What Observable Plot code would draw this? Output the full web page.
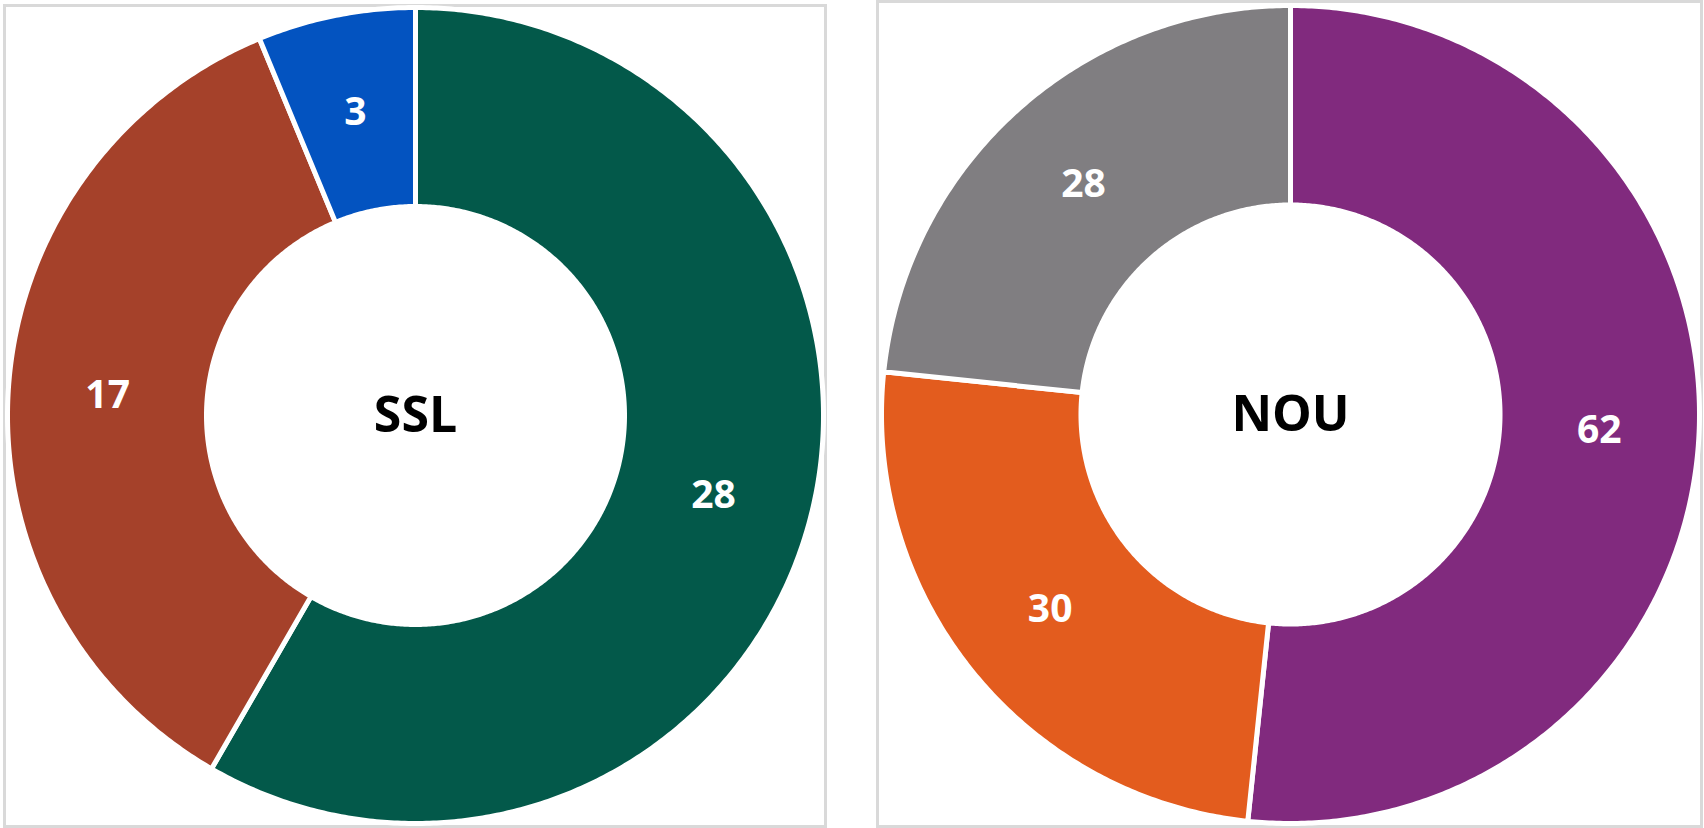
<!DOCTYPE html>
<html>
<head>
<meta charset="utf-8">
<script src="https://cdn.jsdelivr.net/npm/d3@7"></script>
<script src="https://cdn.jsdelivr.net/npm/@observablehq/plot@0.6"></script>
<style>
  html, body { margin: 0; padding: 0; background: #ffffff; width: 1704px; height: 828px; overflow: hidden; }
  .panel { position: absolute; box-sizing: border-box; border: 3px solid #d9d9d9; }
  .chart { position: absolute; top: 0; }
</style>
</head>
<body>
<div class="panel" style="left:3px; top:4px; width:824px; height:824px;"></div>
<div class="panel" style="left:876px; top:0px; width:827px; height:828px;"></div>
<div id="c1" class="chart" style="left:0px;"></div>
<div id="c2" class="chart" style="left:852px;"></div>
<script>
// ---- data ----
const chartNames = ["SSL", "NOU"];
const sslSegments = ["Segment 1", "Segment 2", "Segment 3"];
const sslValues = [28, 17, 3];
const nouSegments = ["Segment 1", "Segment 2", "Segment 3"];
const nouValues = [62, 30, 28];

// ---- styles ----
const sslColors = ["#03594a", "#a5412a", "#0353c0"];
const nouColors = ["#812a7e", "#e35c1e", "#807e81"];

const INNER = 209 / 408; // hole ratio
const MID = (1 + INNER) / 2;

function donut(el, name, segments, values, colors, cx, cy, R) {
  const total = d3.sum(values);
  const pts = [];
  const labels = [];
  let acc = 0;
  segments.forEach((seg, i) => {
    const a0 = acc / total * 2 * Math.PI;
    acc += values[i];
    const a1 = acc / total * 2 * Math.PI;
    const n = Math.max(2, Math.ceil((a1 - a0) / (Math.PI / 360)));
    for (let k = 0; k <= n; k++) {
      const a = a0 + (a1 - a0) * k / n;
      pts.push({key: seg, x: Math.sin(a), y: Math.cos(a)});
    }
    for (let k = n; k >= 0; k--) {
      const a = a0 + (a1 - a0) * k / n;
      pts.push({key: seg, x: INNER * Math.sin(a), y: INNER * Math.cos(a)});
    }
    const am = (a0 + a1) / 2;
    labels.push({x: MID * Math.sin(am), y: MID * Math.cos(am), text: String(values[i])});
  });
  const chart = Plot.plot({
    width: 852,
    height: 828,
    margin: 0,
    style: {background: "transparent", fontFamily: "Open Sans"},
    x: {domain: [-1, 1], range: [cx - R, cx + R], axis: null},
    y: {domain: [-1, 1], range: [cy + R, cy - R], axis: null},
    color: {domain: segments, range: colors},
    marks: [
      Plot.line(pts, {x: "x", y: "y", z: "key", fill: "key", stroke: "white", strokeWidth: 5, curve: "linear-closed"}),
      Plot.text(labels, {x: "x", y: "y", text: "text", fill: "white", fontSize: 39, fontWeight: "bold", fontFamily: "Open Sans"}),
      Plot.text([name], {x: () => 0, y: () => 0, text: d => d, fill: "black", fontSize: 50, fontWeight: "bold", fontFamily: "Open Sans"})
    ]
  });
  document.getElementById(el).appendChild(chart);
}

donut("c1", chartNames[0], sslSegments, sslValues, sslColors, 415, 415, 408);
donut("c2", chartNames[1], nouSegments, nouValues, nouColors, 438, 414, 409);
</script>
</body>
</html>
